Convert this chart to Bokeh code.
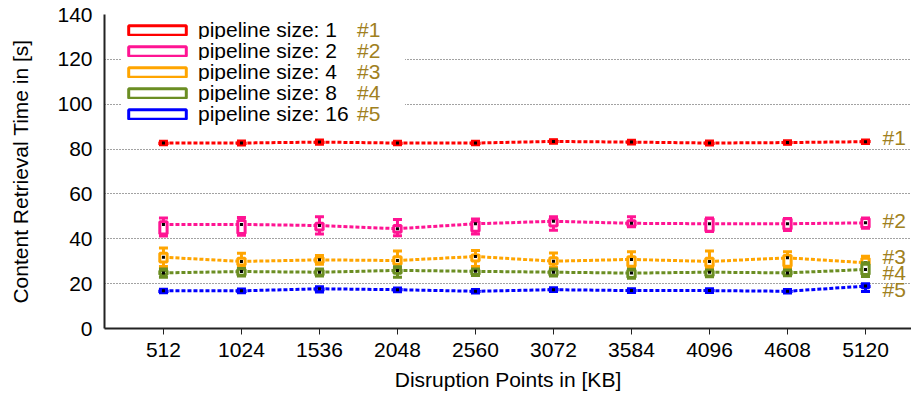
from bokeh.plotting import figure
from bokeh.models import (Range1d, FixedTicker, Legend, LegendItem,
                          ColumnDataSource)
from bokeh.core.properties import value
from bokeh.embed import file_html
from bokeh.resources import INLINE

# Disruption points (KB)
points = [512, 1024, 1536, 2048, 2560, 3072, 3584, 4096, 4608, 5120]
tick_labels = [str(v) for v in points]

series_names = ["pipeline size: 1", "pipeline size: 2", "pipeline size: 4",
                "pipeline size: 8", "pipeline size: 16"]
series_tags = ["#1", "#2", "#3", "#4", "#5"]
series_colors = ["#ff0000", "#ff1493", "#ffa500", "#6b8e23", "#0000ff"]
tag_y = [85.2, 48.1, 32.2, 25.1, 17.3]

# content retrieval time [s]: whisker low, lower quartile, median, upper quartile, whisker high
size1_low = [81.9, 81.8, 82.2, 81.9, 81.9, 82.6, 82.3, 81.8, 82.1, 82.5]
size1_q1 = [82.2, 82.2, 82.6, 82.2, 82.2, 82.9, 82.6, 82.2, 82.4, 82.8]
size1_med = [82.7, 82.7, 83.1, 82.7, 82.7, 83.4, 83.1, 82.7, 82.9, 83.3]
size1_q3 = [83.2, 83.2, 83.6, 83.2, 83.2, 83.9, 83.6, 83.2, 83.4, 83.8]
size1_high = [83.5, 83.6, 84.0, 83.5, 83.5, 84.2, 83.9, 83.6, 83.7, 84.1]

size2_low = [41.2, 41.6, 42.1, 41.3, 42.1, 43.8, 45.4, 43.2, 43.7, 44.7]
size2_q1 = [42.1, 42.4, 43.9, 42.9, 43.4, 45.7, 45.7, 43.4, 44.2, 45.0]
size2_med = [46.4, 46.4, 45.9, 44.5, 46.7, 47.8, 46.9, 46.7, 46.7, 47.1]
size2_q3 = [47.6, 48.1, 46.9, 45.9, 47.7, 48.9, 48.0, 49.1, 48.9, 49.1]
size2_high = [49.3, 49.5, 49.8, 48.6, 48.8, 49.8, 49.8, 49.3, 49.1, 49.3]

size4_low = [27.6, 27.4, 28.6, 26.9, 27.6, 27.2, 26.9, 26.9, 26.9, 27.6]
size4_q1 = [29.6, 28.3, 29.3, 28.6, 30.1, 28.6, 27.8, 27.8, 27.8, 28.6]
size4_med = [31.8, 29.9, 30.6, 30.3, 32.1, 30.0, 30.8, 29.9, 31.5, 29.3]
size4_q3 = [33.5, 31.3, 31.7, 32.0, 32.8, 31.6, 32.0, 31.3, 32.5, 31.3]
size4_high = [35.9, 33.5, 32.5, 34.5, 34.8, 33.7, 34.2, 34.5, 34.2, 32.2]

size8_low = [22.9, 23.4, 23.4, 22.9, 23.6, 23.4, 22.4, 23.1, 23.5, 23.2]
size8_q1 = [24.1, 23.7, 23.7, 24.6, 24.1, 23.7, 22.7, 23.4, 23.8, 24.1]
size8_med = [24.8, 25.4, 25.1, 25.9, 25.5, 25.1, 24.7, 25.1, 24.8, 26.3]
size8_q3 = [25.7, 26.4, 26.1, 26.4, 26.1, 26.1, 26.1, 25.8, 25.8, 28.6]
size8_high = [26.5, 26.8, 26.5, 27.5, 26.5, 26.5, 26.4, 26.1, 26.1, 29.3]

size16_low = [15.9, 15.9, 16.3, 16.4, 15.8, 16.5, 16.1, 16.1, 15.8, 16.5]
size16_q1 = [16.2, 16.2, 16.7, 16.7, 16.1, 16.7, 16.4, 16.4, 16.1, 18.2]
size16_med = [16.8, 16.8, 17.7, 17.3, 16.6, 17.3, 16.9, 16.9, 16.6, 18.9]
size16_q3 = [17.2, 17.3, 18.2, 17.8, 17.1, 17.8, 17.4, 17.4, 17.1, 19.4]
size16_high = [17.5, 17.6, 18.6, 18.1, 17.4, 18.2, 17.7, 17.7, 17.4, 19.9]

stats = [
    (size1_low, size1_q1, size1_med, size1_q3, size1_high),
    (size2_low, size2_q1, size2_med, size2_q3, size2_high),
    (size4_low, size4_q1, size4_med, size4_q3, size4_high),
    (size8_low, size8_q1, size8_med, size8_q3, size8_high),
    (size16_low, size16_q1, size16_med, size16_q3, size16_high),
]

FONT = "Liberation Sans"
FONT_SIZE = "21px"
TAG_COLOR = "#a08020"

FRAME_TOP, FRAME_BOTTOM = 14, 328   # canvas px
p = figure(width=911, height=396, output_backend="svg", toolbar_location=None,
           x_range=Range1d(125, 5422), y_range=Range1d(0, 140),
           min_border_left=104, min_border_right=0, min_border_top=FRAME_TOP,
           min_border_bottom=396 - FRAME_BOTTOM)
p.outline_line_color = None
p.background_fill_color = "white"
p.border_fill_color = "white"

# axes
p.xaxis.ticker = FixedTicker(ticks=points)
p.xaxis.major_label_overrides = {v: s for v, s in zip(points, tick_labels)}
p.yaxis.ticker = FixedTicker(ticks=[0, 20, 40, 60, 80, 100, 120, 140])
p.xaxis.axis_label = "Disruption Points in [KB]"
p.yaxis.axis_label = "Content Retrieval Time in [s]"
for ax in (p.xaxis, p.yaxis):
    ax.axis_label_text_font = FONT
    ax.axis_label_text_font_size = FONT_SIZE
    ax.axis_label_text_font_style = "normal"
    ax.axis_label_text_color = "black"
    ax.major_label_text_font = FONT
    ax.major_label_text_font_size = FONT_SIZE
    ax.major_label_text_color = "black"
    ax.axis_line_color = "#222222"
    ax.axis_line_width = 2
    ax.minor_tick_line_color = None
    ax.major_tick_line_color = "#222222"
p.xaxis.major_tick_out = 6
p.xaxis.major_tick_in = 0
p.xaxis.major_label_standoff = 8
p.xaxis.axis_label_standoff = 8
p.yaxis.major_tick_out = 0
p.yaxis.major_tick_in = 0
p.yaxis.major_label_standoff = 12
p.yaxis.axis_label_standoff = 22

p.xgrid.grid_line_color = None
p.ygrid.grid_line_color = "#444444"
p.ygrid.grid_line_dash = "1 2"
p.ygrid.grid_line_width = 1

box_width = 48
boxes = []
for color, (lo, q1, med, q3, hi) in zip(series_colors, stats):
    src = ColumnDataSource(dict(x=points, lo=lo, q1=q1, med=med, q3=q3, hi=hi))
    p.line("x", "med", source=src, line_color=color, line_width=3, line_dash="4 2")
    p.segment(x0="x", y0="lo", x1="x", y1="hi", source=src,
              line_color=color, line_width=3)
    p.scatter("x", "lo", source=src, marker="dash", size=9,
              line_color=color, line_width=3)
    p.scatter("x", "hi", source=src, marker="dash", size=9,
              line_color=color, line_width=3)
    box = p.vbar(x="x", bottom="q1", top="q3", width=box_width, source=src,
                 fill_color="white", line_color=color, line_width=3)
    p.scatter("x", "med", source=src, marker="square", size=3,
              fill_color="black", line_color=None)
    boxes.append(box)

# series tags next to the last point
tag_src = ColumnDataSource(dict(x=[points[-1]] * len(series_tags), y=tag_y,
                                t=series_tags))
p.text(x="x", y="y", text="t", source=tag_src, x_offset=17,
       text_font=value(FONT), text_font_size=FONT_SIZE, text_color=TAG_COLOR,
       text_baseline="middle", text_align="left")

# invisible renderer used as a glyph-less legend entry for the tags
blank = p.scatter(x=[], y=[], size=0, fill_alpha=0, line_alpha=0)

# legend: one row per series, 21 px apart, first row centred at y = 30 px
ROW_H = 24
first_row, row_step = 30, 21
row_legends, tag_legends = [], []
for i, (name, tag, box) in enumerate(zip(series_names, series_tags, boxes)):
    centre = first_row + i * row_step
    vy = FRAME_BOTTOM - centre - ROW_H / 2
    row_legends.append(Legend(
        items=[LegendItem(label=name, renderers=[box])],
        location=(17, vy), glyph_width=72, glyph_height=12, label_height=21,
        label_width=207, label_standoff=5, padding=0, spacing=0, margin=0,
        border_line_color=None, background_fill_color="white",
        background_fill_alpha=1.0, label_text_font=FONT,
        label_text_font_size=FONT_SIZE, label_text_color="black"))
    tag_legends.append(Legend(
        items=[LegendItem(label=tag, renderers=[blank])],
        location=(253, vy), glyph_width=0, glyph_height=12, label_height=21,
        label_standoff=0, padding=0, spacing=0, margin=0,
        border_line_color=None, background_fill_alpha=0.0,
        label_text_font=FONT, label_text_font_size=FONT_SIZE,
        label_text_color=TAG_COLOR))

for lg in row_legends + tag_legends:
    p.add_layout(lg)

open("out.html", "w").write(file_html(p, INLINE))
